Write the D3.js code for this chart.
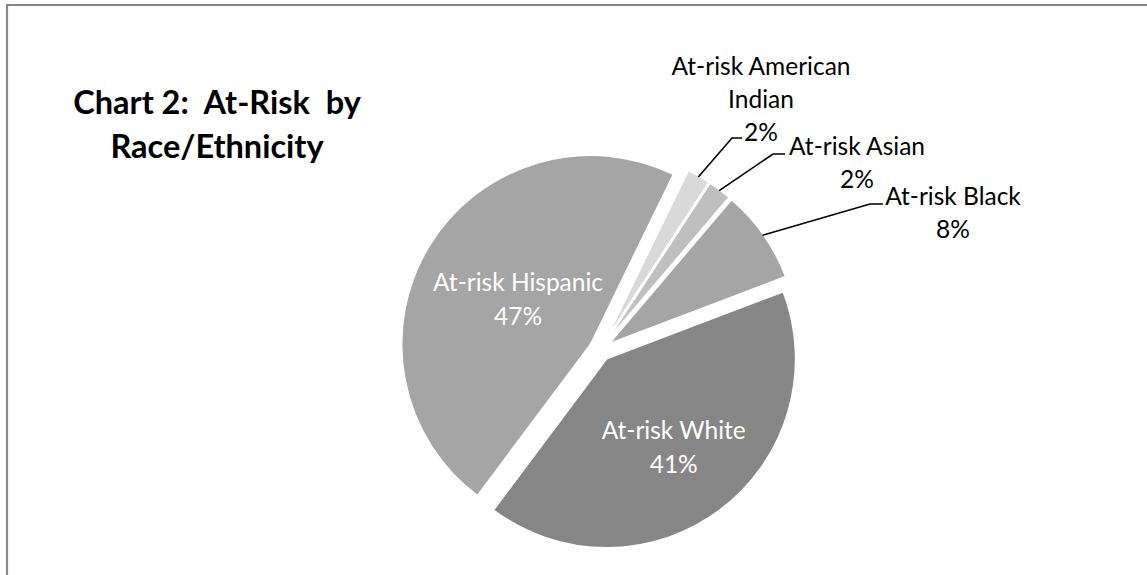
<!DOCTYPE html>
<html>
<head>
<meta charset="utf-8">
<script src="https://cdn.jsdelivr.net/npm/d3@7"></script>
<style>
  html, body { margin: 0; padding: 0; background: #fff; }
  svg { display: block; }
  text { font-family: Lato, "Open Sans", sans-serif; white-space: pre; }
</style>
</head>
<body>
<svg id="chart" width="1147" height="575"></svg>
<script>
// ---- data ----
const categories = ["At-risk American Indian", "At-risk Asian", "At-risk Black", "At-risk White", "At-risk Hispanic"];
const values = [2, 2, 8, 41, 47];
const percentLabels = ["2%", "2%", "8%", "41%", "47%"];
const sliceColors = ["#d9d9d9", "#bfbfbf", "#a5a5a5", "#868686", "#a5a5a5"];
const titleLines = ["Chart 2:  At-Risk  by", "Race/Ethnicity"];

// ---- layout ----
const W = 1147, H = 575;
const cx = 600, cy = 350, R = 189, explode = 11;
const startDeg = 26;
const labelSize = 24.5;

const svg = d3.select("#chart");

// frame (left + top only visible)
svg.append("path")
  .attr("d", `M7,${H} L7,5 L${W},5`)
  .attr("fill", "none").attr("stroke", "#878787").attr("stroke-width", 2.2);

// title
const title = svg.append("text")
  .attr("text-anchor", "middle")
  .attr("font-weight", "bold")
  .attr("font-size", 32.5)
  .attr("fill", "#000")
  .attr("xml:space", "preserve");
titleLines.forEach((t, i) => {
  title.append("tspan").attr("x", 217).attr("y", 114 + i * 44).text(t);
});

const pie = d3.pie().sort(null).value(d => d)
  .startAngle(startDeg * Math.PI / 180)
  .endAngle(startDeg * Math.PI / 180 + 2 * Math.PI);
const arcs = pie(values);
const arc = d3.arc().innerRadius(0).outerRadius(R);

const g = svg.append("g").attr("transform", `translate(${cx},${cy})`);

function dir(a) { return [Math.sin(a), -Math.cos(a)]; }

const slices = g.selectAll("g.slice").data(arcs).enter().append("g")
  .attr("class", "slice")
  .attr("transform", d => {
    const m = (d.startAngle + d.endAngle) / 2;
    const [dx, dy] = dir(m);
    return `translate(${dx * explode},${dy * explode})`;
  });

slices.append("path")
  .attr("d", arc)
  .attr("fill", (d, i) => sliceColors[i])
  .attr("stroke", "#ffffff")
  .attr("stroke-width", 1.6)
  .attr("stroke-linejoin", "round");

// inside labels (White, Hispanic)
const insideFactor = { 3: 0.59, 4: 0.45 };
Object.keys(insideFactor).forEach(k => {
  const i = +k, d = arcs[i];
  const m = (d.startAngle + d.endAngle) / 2;
  const [dx, dy] = dir(m);
  const rr = R * insideFactor[k] + explode;
  const x = dx * rr, y = dy * rr;
  const name = categories[i];
  const t = g.append("text").attr("text-anchor", "middle")
    .attr("font-size", labelSize).attr("fill", "#ffffff");
  t.append("tspan").attr("x", x).attr("y", y - 17 + 8).text(name);
  t.append("tspan").attr("x", x).attr("y", y + 17 + 8).text(percentLabels[i]);
});

// outside labels with leader lines
const outside = [
  { i: 0, elbow: [132, -212], end: [142, -212], lines: ["At-risk American", "Indian"], lx: 161, ly: -283 },
  { i: 1, elbow: [173, -196], end: [185, -196], lines: ["At-risk Asian"], lx: 257, ly: -203 },
  { i: 2, elbow: [270, -146], end: [283, -146], lines: ["At-risk Black"], lx: 353, ly: -153 }
];
outside.forEach(o => {
  const d = arcs[o.i];
  const m = (d.startAngle + d.endAngle) / 2;
  const [dx, dy] = dir(m);
  const sx = dx * (R + explode - 1), sy = dy * (R + explode - 1);
  g.append("path")
    .attr("d", `M${sx},${sy} L${o.elbow[0]},${o.elbow[1]} L${o.end[0]},${o.end[1]}`)
    .attr("fill", "none").attr("stroke", "#000").attr("stroke-width", 1.6);
  const t = g.append("text").attr("text-anchor", "middle")
    .attr("font-size", labelSize).attr("fill", "#000");
  const lh = 33;
  o.lines.forEach((ln, j) => {
    t.append("tspan").attr("x", o.lx).attr("y", o.ly + j * lh + 8).text(ln);
  });
  t.append("tspan").attr("x", o.lx).attr("y", o.ly + o.lines.length * lh + 8).text(percentLabels[o.i]);
});
</script>
</body>
</html>
